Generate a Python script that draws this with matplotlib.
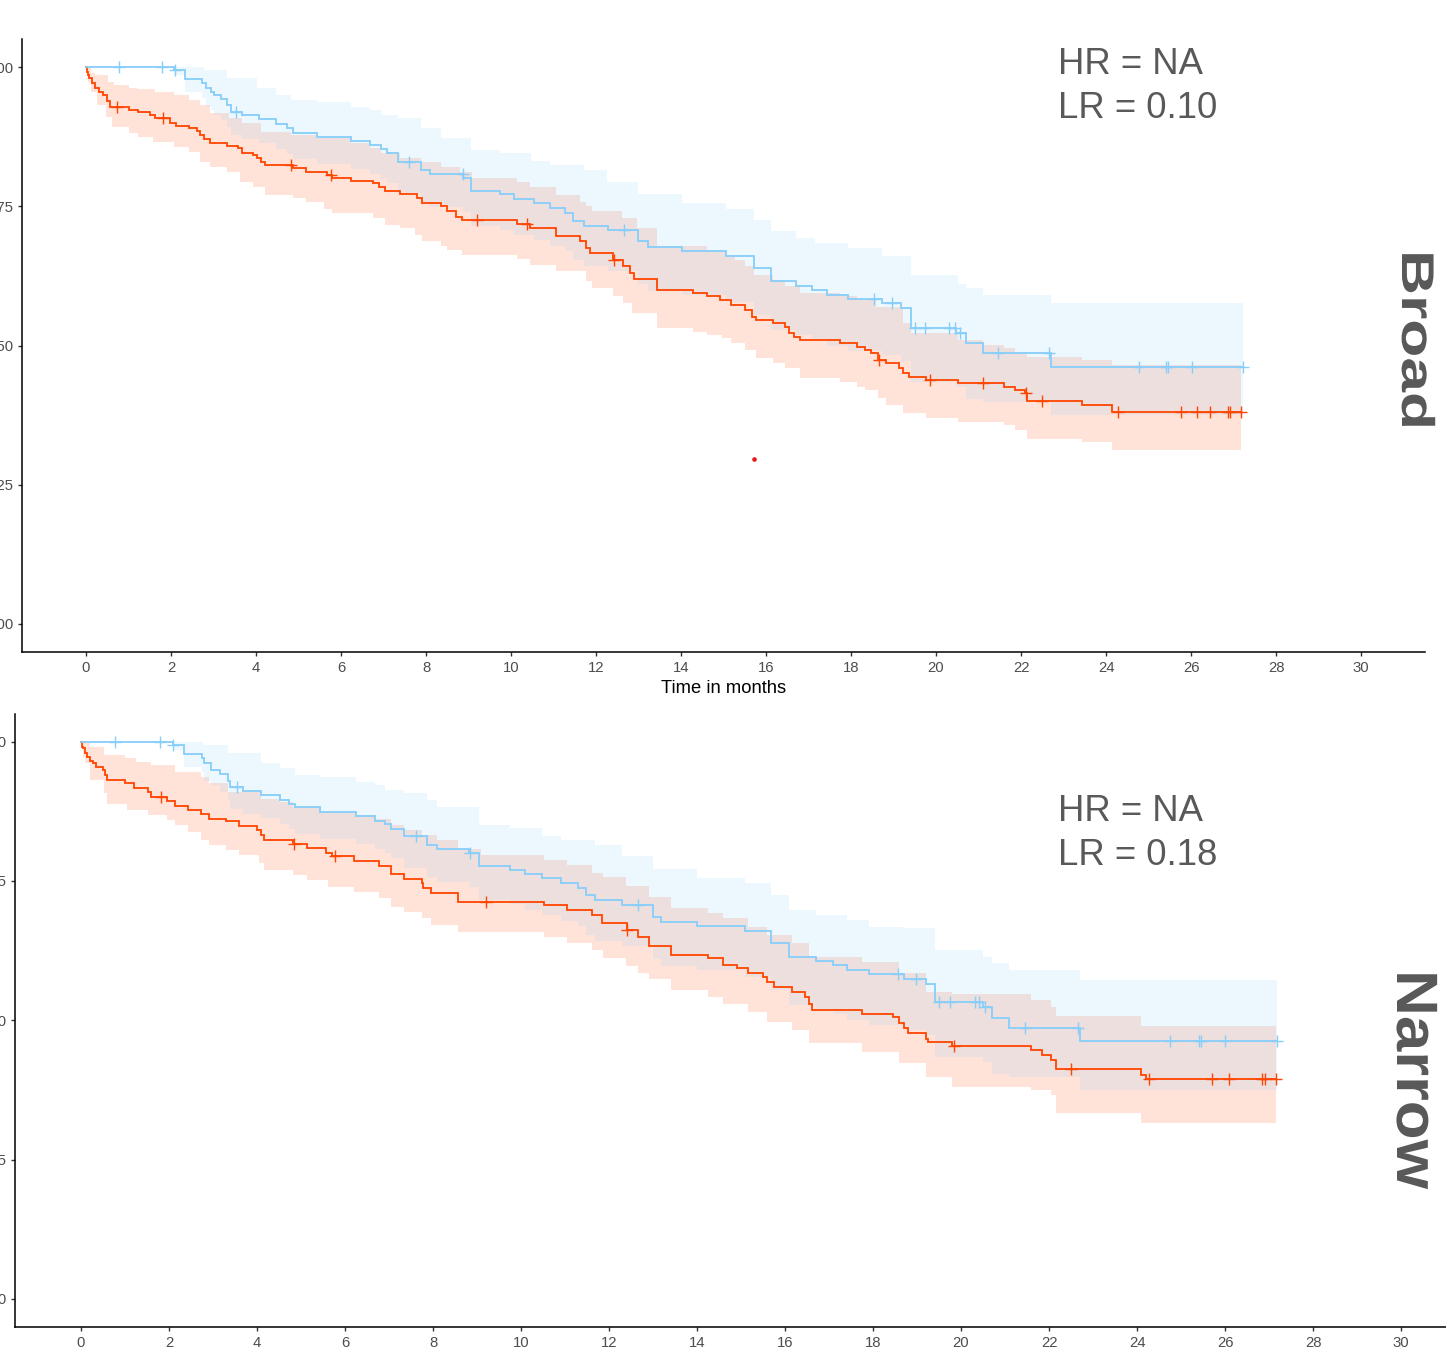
import numpy as np
import matplotlib
matplotlib.use("Agg")
import matplotlib.pyplot as plt
from matplotlib.patheffects import AbstractPathEffect
from matplotlib.transforms import Affine2D

plt.rcParams['font.family'] = ['Liberation Sans', 'DejaVu Sans']

# ---------------- data (time in months, survival probability) ----------------
TOP_RED_T = [0, 0.02, 0.04, 0.08, 0.14, 0.21, 0.30, 0.41, 0.50, 0.57, 1.01, 1.23, 1.50, 1.63, 1.98, 2.12,
             2.43, 2.60, 2.69, 2.78, 2.91, 3.31, 3.58, 3.67, 3.93, 4.02, 4.11, 4.20, 4.86, 5.17, 5.66, 5.79,
             6.23, 6.76, 6.90, 7.03, 7.38, 7.78, 7.91, 8.36, 8.49, 8.71, 8.84, 10.13, 10.44, 11.06, 11.63,
             11.77, 11.85, 12.39, 12.64, 12.81, 12.89, 13.43, 14.27, 14.62, 14.92, 15.17, 15.51, 15.66, 15.76,
             16.16, 16.45, 16.55, 16.65, 16.80, 17.74, 18.13, 18.33, 18.48, 18.63, 18.83, 19.13, 19.22, 19.37,
             19.77, 20.51, 21.60, 21.85, 22.10, 22.15, 23.43, 24.13]
TOP_RED_S = [1.0, 0.992, 0.986, 0.980, 0.971, 0.962, 0.956, 0.949, 0.939, 0.928, 0.923, 0.919, 0.914, 0.908,
             0.899, 0.894, 0.890, 0.885, 0.878, 0.871, 0.863, 0.859, 0.854, 0.845, 0.842, 0.836, 0.830, 0.824,
             0.818, 0.812, 0.806, 0.800, 0.796, 0.791, 0.785, 0.778, 0.772, 0.764, 0.755, 0.750, 0.741, 0.731,
             0.725, 0.719, 0.711, 0.696, 0.687, 0.675, 0.666, 0.654, 0.642, 0.630, 0.619, 0.600, 0.594, 0.588,
             0.582, 0.573, 0.564, 0.552, 0.546, 0.540, 0.534, 0.522, 0.516, 0.510, 0.504, 0.498, 0.492, 0.486,
             0.474, 0.468, 0.459, 0.450, 0.444, 0.438, 0.432, 0.426, 0.420, 0.414, 0.401, 0.393, 0.381]
TOP_RED_CENSOR = [0.74, 1.81, 4.82, 5.76, 9.20, 10.38, 12.43, 18.65, 19.87, 21.11, 22.12, 22.49, 24.28,
                  25.76, 26.14, 26.45, 26.88, 26.92, 27.18]
TOP_RED_UPPER = [(0, 1.0), (0.12, 0.989), (0.21, 0.986), (0.52, 0.974), (0.66, 0.967), (1.01, 0.963),
                 (1.19, 0.960), (1.63, 0.956), (2.07, 0.950), (2.43, 0.941), (2.69, 0.932), (2.91, 0.917),
                 (3.36, 0.908), (3.67, 0.899), (4.11, 0.884), (4.82, 0.878), (5.44, 0.872), (6.23, 0.863),
                 (6.67, 0.854), (6.94, 0.845), (7.38, 0.836), (7.87, 0.829), (8.36, 0.821), (8.80, 0.812),
                 (9.07, 0.800), (10.13, 0.794), (10.44, 0.785), (11.06, 0.770), (11.63, 0.758), (11.77, 0.750),
                 (11.90, 0.741), (12.61, 0.729), (12.96, 0.711), (13.43, 0.678), (14.62, 0.669), (15.07, 0.660),
                 (15.26, 0.654), (15.51, 0.642), (15.71, 0.627), (16.16, 0.618), (16.45, 0.606), (16.80, 0.594),
                 (17.74, 0.588), (18.13, 0.582), (18.58, 0.570), (19.22, 0.540), (19.42, 0.522), (20.51, 0.510),
                 (21.11, 0.501), (21.60, 0.495), (21.85, 0.489), (22.15, 0.480), (23.43, 0.474), (24.13, 0.465)]
TOP_RED_LOWER = [(0, 1.0), (0.04, 0.974), (0.12, 0.956), (0.26, 0.932), (0.48, 0.911), (0.61, 0.893),
                 (1.01, 0.881), (1.23, 0.875), (1.58, 0.866), (2.07, 0.857), (2.43, 0.848), (2.69, 0.830),
                 (2.91, 0.821), (3.31, 0.812), (3.62, 0.794), (3.93, 0.785), (4.20, 0.770), (4.86, 0.764),
                 (5.17, 0.758), (5.61, 0.746), (5.79, 0.738), (6.76, 0.729), (7.03, 0.717), (7.38, 0.711),
                 (7.74, 0.699), (7.91, 0.687), (8.36, 0.678), (8.49, 0.672), (8.84, 0.663), (10.13, 0.656),
                 (10.44, 0.645), (11.06, 0.633), (11.77, 0.615), (11.90, 0.603), (12.39, 0.588), (12.64, 0.576),
                 (12.84, 0.558), (13.43, 0.531), (14.27, 0.525), (14.62, 0.519), (14.96, 0.513), (15.17, 0.504),
                 (15.51, 0.492), (15.76, 0.477), (16.16, 0.468), (16.45, 0.459), (16.80, 0.441), (17.74, 0.435),
                 (18.13, 0.426), (18.33, 0.420), (18.63, 0.405), (18.83, 0.393), (19.22, 0.378), (19.77, 0.369),
                 (20.51, 0.363), (21.60, 0.357), (21.85, 0.348), (22.15, 0.333), (23.43, 0.326), (24.13, 0.3125)]

TOP_BLUE_T = [0, 2.07, 2.34, 2.74, 2.83, 2.94, 3.00, 3.18, 3.31, 3.40, 3.67, 4.06, 4.46, 4.73, 4.86, 5.44,
              6.23, 6.67, 6.94, 7.07, 7.34, 7.87, 8.09, 8.88, 9.06, 9.73, 10.08, 10.53, 10.92, 11.28, 11.46,
              11.72, 12.29, 12.99, 13.23, 14.03, 15.07, 15.71, 16.11, 16.70, 17.09, 17.44, 17.94, 18.73,
              19.17, 19.42, 20.46, 20.71, 21.11, 22.71]
TOP_BLUE_S = [1.0, 0.995, 0.979, 0.971, 0.962, 0.956, 0.949, 0.943, 0.932, 0.920, 0.913, 0.907, 0.898,
              0.890, 0.882, 0.875, 0.867, 0.860, 0.853, 0.845, 0.830, 0.815, 0.808, 0.800, 0.778, 0.772,
              0.763, 0.755, 0.747, 0.738, 0.724, 0.715, 0.708, 0.687, 0.676, 0.670, 0.660, 0.639, 0.615,
              0.607, 0.600, 0.591, 0.583, 0.576, 0.567, 0.531, 0.523, 0.504, 0.487, 0.462]
TOP_BLUE_CENSOR = [0.77, 1.79, 2.10, 3.53, 7.61, 8.86, 12.65, 18.55, 18.96, 19.50, 19.75, 20.31, 20.44,
                   20.56, 21.45, 22.67, 24.77, 25.42, 25.47, 26.03, 27.22]
TOP_BLUE_UPPER = [(0, 1.0), (2.78, 0.995), (3.31, 0.980), (4.02, 0.962), (4.46, 0.950), (4.82, 0.941),
                  (5.44, 0.938), (6.23, 0.929), (6.67, 0.923), (6.94, 0.914), (7.34, 0.908), (7.87, 0.890),
                  (8.36, 0.872), (9.06, 0.851), (9.73, 0.845), (10.48, 0.832), (10.92, 0.824), (11.72, 0.815),
                  (12.25, 0.793), (12.99, 0.772), (14.03, 0.755), (15.07, 0.746), (15.71, 0.726), (16.11, 0.705),
                  (16.70, 0.693), (17.15, 0.684), (17.94, 0.675), (18.73, 0.660), (19.42, 0.627), (20.51, 0.610),
                  (20.71, 0.603), (21.11, 0.591), (22.71, 0.576)]
TOP_BLUE_LOWER = [(0, 1.0), (2.07, 0.985), (2.34, 0.955), (2.74, 0.944), (2.83, 0.930), (2.94, 0.922),
                  (3.00, 0.913), (3.18, 0.905), (3.31, 0.892), (3.40, 0.878), (3.67, 0.870), (4.06, 0.863),
                  (4.46, 0.852), (4.73, 0.843), (4.86, 0.834), (5.44, 0.826), (6.23, 0.817), (6.67, 0.808),
                  (6.94, 0.800), (7.07, 0.791), (7.34, 0.774), (7.87, 0.757), (8.09, 0.749), (8.88, 0.740),
                  (9.06, 0.715), (9.73, 0.708), (10.08, 0.698), (10.53, 0.689), (10.92, 0.679), (11.28, 0.669),
                  (11.46, 0.653), (11.72, 0.643), (12.29, 0.634), (12.99, 0.610), (13.23, 0.597), (14.03, 0.590),
                  (15.07, 0.578), (15.71, 0.555), (16.11, 0.528), (16.70, 0.519), (17.09, 0.511), (17.44, 0.500),
                  (17.94, 0.491), (18.73, 0.483), (19.17, 0.473), (19.42, 0.434), (20.46, 0.425), (20.71, 0.404),
                  (21.11, 0.398), (22.71, 0.375)]

BOT_RED_T = [0, 0.02, 0.04, 0.08, 0.14, 0.21, 0.28, 0.34, 0.49, 0.54, 0.60, 0.99, 1.21, 1.52, 1.60, 1.95,
             2.13, 2.43, 2.73, 2.91, 3.30, 3.60, 3.99, 4.08, 4.17, 4.82, 5.13, 5.56, 5.70, 6.21, 6.78, 7.04,
             7.34, 7.74, 7.78, 7.95, 8.56, 10.52, 11.04, 11.61, 11.85, 12.40, 12.65, 12.90, 13.40, 14.25,
             14.60, 14.90, 15.15, 15.50, 15.60, 15.75, 16.15, 16.45, 16.55, 16.62, 17.75, 18.45, 18.60, 18.70,
             18.80, 19.20, 19.25, 19.80, 21.60, 21.85, 22.05, 22.15, 24.10, 24.20]
BOT_RED_S = [1.0, 0.991, 0.988, 0.980, 0.973, 0.966, 0.961, 0.954, 0.949, 0.940, 0.931, 0.925, 0.916,
             0.910, 0.901, 0.894, 0.885, 0.877, 0.871, 0.862, 0.857, 0.848, 0.841, 0.833, 0.823, 0.816,
             0.809, 0.801, 0.794, 0.785, 0.776, 0.762, 0.754, 0.746, 0.737, 0.729, 0.713, 0.707, 0.698,
             0.689, 0.674, 0.662, 0.649, 0.633, 0.617, 0.611, 0.600, 0.593, 0.584, 0.578, 0.569, 0.560,
             0.551, 0.542, 0.530, 0.518, 0.511, 0.506, 0.496, 0.486, 0.478, 0.467, 0.461, 0.454, 0.447,
             0.438, 0.429, 0.412, 0.402, 0.394]
BOT_RED_CENSOR = [1.81, 4.84, 5.78, 9.20, 12.42, 19.83, 22.50, 24.28, 25.70, 26.10, 26.85, 26.90, 27.15]
BOT_RED_UPPER = [(0, 1.0), (0.21, 0.991), (0.52, 0.976), (0.99, 0.970), (1.26, 0.964), (1.60, 0.958),
                 (2.13, 0.946), (2.73, 0.937), (2.91, 0.925), (3.34, 0.910), (4.08, 0.898), (4.52, 0.892),
                 (4.82, 0.883), (5.43, 0.874), (6.26, 0.868), (6.69, 0.861), (7.04, 0.851), (7.34, 0.841),
                 (7.74, 0.832), (8.08, 0.824), (8.56, 0.808), (9.08, 0.797), (10.52, 0.788), (11.04, 0.779),
                 (11.61, 0.764), (11.87, 0.758), (12.39, 0.741), (12.90, 0.722), (13.40, 0.701), (14.25, 0.692),
                 (14.60, 0.683), (15.15, 0.668), (15.60, 0.653), (16.15, 0.638), (16.55, 0.614), (17.75, 0.605),
                 (18.60, 0.584), (19.20, 0.551), (19.80, 0.548), (21.60, 0.536), (22.05, 0.524), (22.15, 0.507),
                 (24.10, 0.489)]
BOT_RED_LOWER = [(0, 1.0), (0.04, 0.973), (0.08, 0.961), (0.21, 0.931), (0.52, 0.907), (0.60, 0.889),
                 (1.04, 0.877), (1.52, 0.868), (1.95, 0.859), (2.13, 0.850), (2.43, 0.838), (2.73, 0.824),
                 (2.91, 0.815), (3.30, 0.806), (3.60, 0.797), (4.04, 0.782), (4.17, 0.770), (4.82, 0.761),
                 (5.13, 0.752), (5.61, 0.740), (6.21, 0.731), (6.78, 0.719), (7.04, 0.704), (7.34, 0.695),
                 (7.74, 0.683), (7.95, 0.671), (8.56, 0.659), (10.52, 0.650), (11.04, 0.638), (11.61, 0.626),
                 (11.87, 0.611), (12.39, 0.598), (12.65, 0.585), (12.90, 0.575), (13.40, 0.554), (14.25, 0.542),
                 (14.60, 0.530), (15.15, 0.515), (15.60, 0.497), (16.15, 0.483), (16.55, 0.459), (17.75, 0.444),
                 (18.60, 0.423), (19.20, 0.399), (19.80, 0.381), (21.60, 0.375), (22.05, 0.366), (22.15, 0.333),
                 (24.10, 0.316)]

BOT_BLUE_T = [0, 2.08, 2.34, 2.74, 2.80, 2.95, 3.15, 3.34, 3.39, 3.69, 4.08, 4.52, 4.73, 4.86, 5.43, 6.26,
              6.69, 6.91, 7.04, 7.34, 7.87, 8.08, 8.82, 9.04, 9.74, 10.08, 10.48, 10.91, 11.30, 11.48, 11.69,
              12.30, 12.99, 13.19, 13.99, 15.10, 15.69, 16.10, 16.70, 17.10, 17.40, 17.90, 18.70, 19.20,
              19.40, 20.49, 20.70, 21.10, 22.70]
BOT_BLUE_S = [1.0, 0.994, 0.978, 0.970, 0.961, 0.949, 0.942, 0.930, 0.919, 0.912, 0.904, 0.895, 0.889,
              0.882, 0.874, 0.867, 0.858, 0.852, 0.844, 0.830, 0.815, 0.808, 0.800, 0.777, 0.770, 0.762,
              0.755, 0.746, 0.737, 0.724, 0.716, 0.707, 0.685, 0.677, 0.669, 0.661, 0.638, 0.614, 0.607,
              0.599, 0.591, 0.583, 0.575, 0.566, 0.532, 0.523, 0.504, 0.487, 0.462]
BOT_BLUE_CENSOR = [0.77, 1.79, 2.10, 3.55, 7.62, 8.85, 12.65, 18.57, 18.97, 19.50, 19.75, 20.32, 20.42,
                   20.55, 21.45, 22.65, 24.75, 25.40, 25.45, 26.00, 27.18]
BOT_BLUE_UPPER = [(0, 1.0), (2.78, 0.994), (3.34, 0.979), (4.08, 0.961), (4.52, 0.952), (4.86, 0.940),
                  (5.43, 0.937), (6.26, 0.928), (6.69, 0.922), (6.91, 0.913), (7.34, 0.907), (7.87, 0.895),
                  (8.08, 0.883), (9.04, 0.850), (9.74, 0.845), (10.48, 0.831), (10.91, 0.824), (11.69, 0.815),
                  (12.30, 0.794), (12.99, 0.772), (13.99, 0.755), (15.10, 0.746), (15.69, 0.725), (16.10, 0.698),
                  (16.70, 0.689), (17.40, 0.680), (17.90, 0.668), (18.70, 0.665), (19.40, 0.626), (20.49, 0.614),
                  (20.70, 0.602), (21.10, 0.590), (22.70, 0.573)]
BOT_BLUE_LOWER = [(0, 1.0), (2.08, 0.985), (2.34, 0.955), (2.74, 0.944), (2.80, 0.930), (2.95, 0.922),
                  (3.15, 0.910), (3.34, 0.895), (3.39, 0.880), (3.69, 0.870), (4.08, 0.863), (4.52, 0.852),
                  (4.73, 0.843), (4.86, 0.834), (5.43, 0.826), (6.26, 0.817), (6.69, 0.808), (6.91, 0.800),
                  (7.04, 0.791), (7.34, 0.774), (7.87, 0.757), (8.08, 0.749), (8.82, 0.740), (9.04, 0.715),
                  (9.74, 0.708), (10.08, 0.698), (10.48, 0.689), (10.91, 0.679), (11.30, 0.669), (11.48, 0.653),
                  (11.69, 0.643), (12.30, 0.634), (12.99, 0.610), (13.19, 0.597), (13.99, 0.590), (15.10, 0.578),
                  (15.69, 0.555), (16.10, 0.528), (16.70, 0.519), (17.10, 0.511), (17.40, 0.500), (17.90, 0.491),
                  (18.70, 0.483), (19.20, 0.473), (19.40, 0.434), (20.49, 0.425), (20.70, 0.404), (21.10, 0.398),
                  (22.70, 0.375)]

STRAY_POINT = (15.72, 0.296)

X_TICKS = list(range(0, 31, 2))
Y_TICKS = [0.00, 0.25, 0.50, 0.75, 1.00]
Y_TICK_LABELS = ["0.00", "0.25", "0.50", "0.75", "1.00"]
X_LABEL = "Time in months"
PANEL_NAMES = ["Broad", "Narrow"]
STATS = [("HR = NA", "LR = 0.10"), ("HR = NA", "LR = 0.18")]

RED = "#FF4500"
BLUE = "#87CEFA"
TEXT_GREY = "#595959"


# ---------------- helpers ----------------
class Stretch(AbstractPathEffect):
    """Stretch text glyphs along the reading direction."""
    def __init__(self, sx=1.0):
        super().__init__()
        self.sx = sx

    def draw_path(self, renderer, gc, tpath, affine, rgbFace=None):
        renderer.draw_path(gc, tpath, Affine2D().scale(self.sx, 1.0) + affine, rgbFace)


def step_value(ts, ss, x):
    ts = np.asarray(ts, float)
    ss = np.asarray(ss, float)
    idx = np.searchsorted(ts, np.asarray(x, float), side="right") - 1
    return ss[np.clip(idx, 0, len(ss) - 1)]


def draw_group(ax, T, S, censor, upper, lower, color, stage):
    end = max(censor)
    if stage == "band":
        ut, us = zip(*upper)
        lt, ls = zip(*lower)
        grid = np.unique(np.concatenate([ut, lt, [end]]))
        grid = grid[grid <= end]
        up = step_value(ut, us, grid)
        lo = step_value(lt, ls, grid)
        ax.fill_between(grid, lo, up, step="post", color=color, alpha=0.15, linewidth=0)
    else:
        t = np.append(T, end)
        s = np.append(S, S[-1])
        ax.step(t, s, where="post", color=color, lw=1.3, solid_joinstyle="miter")
        ax.plot(censor, step_value(T, S, censor), linestyle="none", marker="+",
                markersize=9, markeredgewidth=1.0, color=color)


W, H = 1446, 1348
fig = plt.figure(figsize=(W / 100, H / 100), dpi=100)


def px_axes(left, top, right, bottom):
    return fig.add_axes([left / W, 1 - bottom / H, (right - left) / W, (bottom - top) / H])


def style_axes(ax):
    ax.set_xlim(-1.5, 31.5)
    ax.set_ylim(-0.05, 1.05)
    ax.set_xticks(X_TICKS)
    ax.set_xticklabels([str(v) for v in X_TICKS])
    ax.set_yticks(Y_TICKS)
    ax.set_yticklabels(Y_TICK_LABELS)
    for side in ("top", "right"):
        ax.spines[side].set_visible(False)
    for side in ("left", "bottom"):
        ax.spines[side].set_linewidth(1.1)
        ax.spines[side].set_color("black")
    ax.tick_params(length=2.8, width=1.0, color="#333333", labelsize=10.7,
                   labelcolor="#4D4D4D", pad=3.3)
    ax.tick_params(axis="x", pad=3.8)
    ax.patch.set_alpha(0)


ax1 = px_axes(22.3, 39.2, 1424.75, 651.8)
ax2 = px_axes(15.0, 713.8, 1467.0, 1326.8)

panels = [
    (ax1, (TOP_RED_T, TOP_RED_S, TOP_RED_CENSOR, TOP_RED_UPPER, TOP_RED_LOWER),
          (TOP_BLUE_T, TOP_BLUE_S, TOP_BLUE_CENSOR, TOP_BLUE_UPPER, TOP_BLUE_LOWER)),
    (ax2, (BOT_RED_T, BOT_RED_S, BOT_RED_CENSOR, BOT_RED_UPPER, BOT_RED_LOWER),
          (BOT_BLUE_T, BOT_BLUE_S, BOT_BLUE_CENSOR, BOT_BLUE_UPPER, BOT_BLUE_LOWER)),
]

for ax, red, blue in panels:
    style_axes(ax)
    draw_group(ax, *red, RED, "band")
    draw_group(ax, *blue, BLUE, "band")
    draw_group(ax, *red, RED, "line")
    draw_group(ax, *blue, BLUE, "line")

ax1.plot(*STRAY_POINT, marker="o", markersize=2.3, color="#E8161C", linestyle="none")
ax1.set_xlabel(X_LABEL, fontsize=13.2, color="black", labelpad=3.6)

# statistics text (pixel placement)
stat_pos = [(1058, 73.5, 117.5), (1058, 821, 865)]
for (hr, lr), (x, y1, y2) in zip(STATS, stat_pos):
    fig.text(x / W, 1 - y1 / H, hr, fontsize=26.3, color=TEXT_GREY, ha="left", va="baseline")
    fig.text(x / W, 1 - y2 / H, lr, fontsize=26.3, color=TEXT_GREY, ha="left", va="baseline")

# side panel labels
side = [(PANEL_NAMES[0], 1402, 250, 33, 1.36), (PANEL_NAMES[1], 1397, 970, 42, 1.09)]
for name, xb, ys, size, stretch in side:
    t = fig.text(xb / W, 1 - ys / H, name, rotation=-90, rotation_mode="anchor",
                 ha="left", va="baseline", fontsize=size, fontweight="bold", color=TEXT_GREY)
    t.set_path_effects([Stretch(stretch)])

fig.savefig("out.png", dpi=100, facecolor="white")
